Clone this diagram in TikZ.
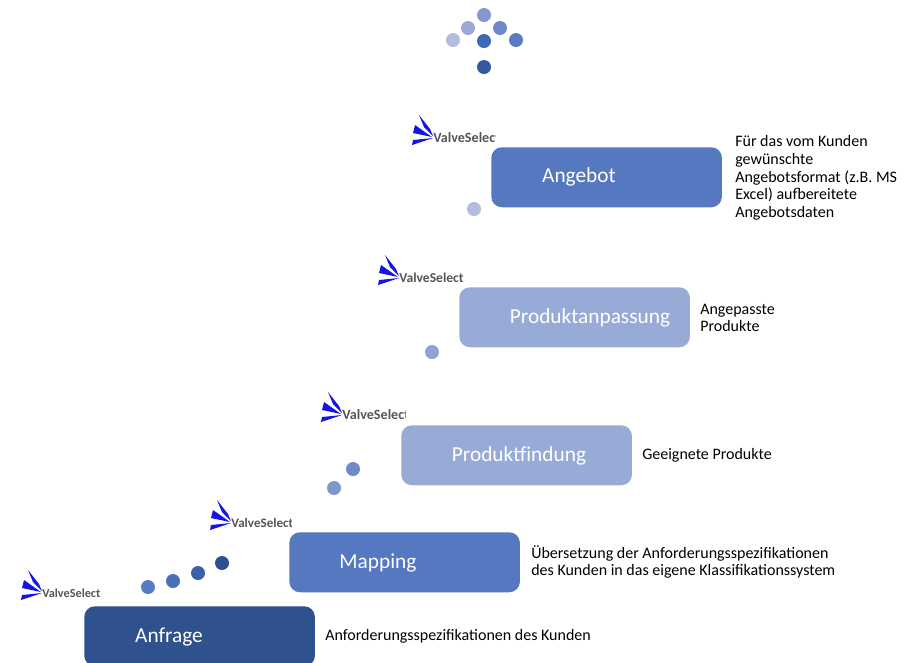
\documentclass[tikz,border=0pt]{standalone}
\usepackage{fontspec}
\setmainfont{Carlito}
\definecolor{navy}{HTML}{2F528F}
\definecolor{midblue}{HTML}{5578C0}
\definecolor{paleblue}{HTML}{98AAD6}
\definecolor{logoblue}{HTML}{1414E6}
\definecolor{logogray}{HTML}{555555}
\definecolor{dA}{HTML}{8497CF}
\definecolor{dB}{HTML}{9AA9D6}
\definecolor{dC}{HTML}{6F88C8}
\definecolor{dD}{HTML}{B0BDE0}
\definecolor{dE}{HTML}{3F68B5}
\definecolor{dF}{HTML}{5B7BC0}
\definecolor{dG}{HTML}{34599F}
\definecolor{dH}{HTML}{8FA3D2}
\definecolor{dI}{HTML}{6F8AC6}
\definecolor{dJ}{HTML}{7F96CC}
\definecolor{dK}{HTML}{2F5090}
\definecolor{dL}{HTML}{3A60A8}
\definecolor{dM}{HTML}{4A70B8}
\tikzset{
  stage/.style={draw=none,rounded corners=8pt,minimum width=173pt,minimum height=45pt,inner sep=0pt,anchor=north west},
  stagelabel/.style={text=white,font=\fontsize{16}{18}\selectfont,inner sep=0pt},
  note/.style={text=black,font=\fontsize{12}{13.3}\selectfont,inner sep=0pt,anchor=west,align=left},
  logotext/.style={text=logogray,font=\fontsize{#1}{11}\selectfont\bfseries,inner sep=0pt,anchor=west}
}
\newcommand{\vlogo}[5]{% name, x, y (apex), clip width, font size
  \fill[logoblue] (#2-14,#3-22) -- (#2-3,#3-8) -- (#2,#3-1) -- (#2-9,#3-10) -- cycle;
  \fill[logoblue] (#2-18,#3-12) -- (#2-1,#3) -- (#2-20,#3-4) -- cycle;
  \fill[logoblue] (#2-20,#3+3) -- (#2,#3+1) -- (#2-21,#3+8) -- cycle;
  \begin{scope}
    \clip (#2-1,#3-12) rectangle (#2+#4,#3+12);
    \node[logotext=#5] (#1) at (#2,#3+1) {ValveSelect};
  \end{scope}
}
\begin{document}
\begin{tikzpicture}[x=0.75pt,y=-0.75pt]
\useasboundingbox (0,0) rectangle (916,662);
% arrow of dots
\fill[dA] (484,15) circle (7);
\fill[dB] (468,28) circle (7);
\fill[dC] (500,28) circle (7);
\fill[dD] (453,40) circle (7);
\fill[dE] (484,41) circle (7);
\fill[dF] (516,40) circle (7);
\fill[dG] (484,67) circle (7);
% path dots
\fill[dD] (474,209) circle (7);
\fill[dH] (432,352) circle (7);
\fill[dI] (353,469) circle (7);
\fill[dJ] (334,488) circle (7);
\fill[dK] (222,563) circle (7);
\fill[dL] (198,573) circle (7);
\fill[dM] (173,581) circle (7);
\fill[dF] (148,587) circle (7);
% stages
\node[stage,fill=midblue] (angebot) at (491,147) {};
\node[stage,fill=paleblue] (anpassung) at (459,287) {};
\node[stage,fill=paleblue] (findung) at (401,425) {};
\node[stage,fill=midblue] (mapping) at (289,532) {};
\node[stage,fill=navy] (anfrage) at (84,606) {};
% stage labels
\node[stagelabel] (angebotl) at (579,177) {Angebot};
\node[stagelabel] (anpassungl) at (590,318) {Produktanpassung};
\node[stagelabel] (findungl) at (519,456) {Produktfindung};
\node[stagelabel] (mappingl) at (378,563) {Mapping};
\node[stagelabel] (anfragel) at (169,637) {Anfrage};
% notes
\node[note] (n1) at (735,178) {Für das vom Kunden\\gewünschte\\Angebotsformat (z.B. MS\\Excel) aufbereitete\\Angebotsdaten};
\node[note] (n2) at (700,318) {Angepasste\\Produkte};
\node[note] (n3) at (642,455) {Geeignete Produkte};
\node[note] (n4) at (531,562) {Übersetzung der Anforderungsspezifikationen\\des Kunden in das eigene Klassifikationssystem};
\node[note] (n5) at (325,636) {Anforderungsspezifikationen des Kunden};
% logos
\vlogo{logoa}{433}{137}{62}{10.6}
\vlogo{logob}{399}{277}{65}{10.2}
\vlogo{logoc}{342}{414}{63}{10.6}
\vlogo{logod}{231}{522}{60}{9.8}
\vlogo{logoe}{42}{592}{58}{9.2}
\end{tikzpicture}
\end{document}
